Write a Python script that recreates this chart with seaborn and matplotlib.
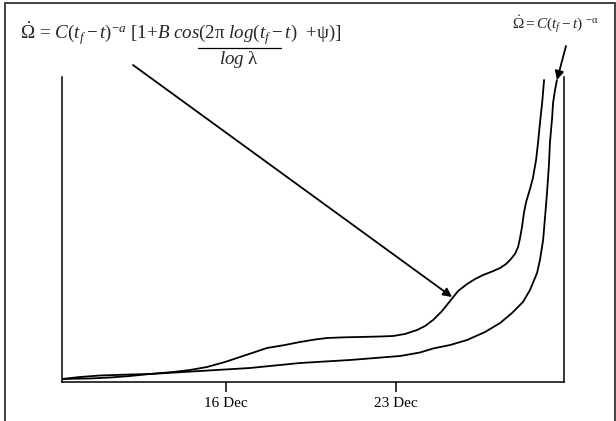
import matplotlib
matplotlib.use("Agg")
import matplotlib.pyplot as plt
import pandas as pd
import seaborn as sns
from matplotlib.lines import Line2D
from matplotlib.patches import Rectangle

# Day of December (fractional) and rate for the log-periodic fit
lp_day = [9.25, 9.79, 10.40, 11.23, 12.05, 12.87, 13.82, 14.52, 15.22, 15.96,
          16.58, 17.20, 17.69, 18.43, 19.05, 19.67, 20.16, 20.90, 21.52, 22.34,
          22.88, 23.37, 23.87, 24.20, 24.53, 24.90, 25.23, 25.56, 25.93, 26.26,
          26.59, 26.96, 27.29, 27.53, 27.70, 27.90, 28.03, 28.11, 28.19, 28.27,
          28.36, 28.52, 28.64, 28.77, 28.85, 28.93, 29.02, 29.10]
lp_rate = [3, 3.3, 3.5, 4.5, 6, 8, 10, 12, 15, 20,
           25, 30, 34, 37, 40, 42.5, 44, 44.7, 45, 45.5,
           46, 48, 52, 56, 62, 71, 81, 91, 98, 103,
           107, 110.5, 114, 118, 122, 128, 135, 144, 155, 169,
           180, 193, 204, 222, 239, 259, 279, 302]

# Day of December and rate for the pure power-law fit
pl_day = [9.25, 9.99, 10.81, 12.05, 12.87, 13.90, 14.93, 15.96, 16.99, 18.02,
          19.05, 20.08, 21.11, 22.14, 23.17, 23.99, 24.53, 25.23, 25.93, 26.67,
          27.29, 27.78, 28.23, 28.52, 28.81, 28.93, 29.06, 29.14, 29.22, 29.30,
          29.34, 29.43, 29.47, 29.55, 29.63]
pl_rate = [3, 5, 6.5, 7.5, 8, 9.5, 11, 12.5, 14, 16.5,
           19, 20.5, 22, 24, 26, 29.5, 33.5, 37, 42, 50,
           59, 69, 80, 92, 109, 122, 142, 165, 189, 217,
           239, 264, 279, 292, 302]

tick_days = [16, 23]
tick_labels = ["16 Dec", "23 Dec"]

sns.set_theme(style="white")
plt.rcParams["font.family"] = ["Liberation Serif", "DejaVu Serif"]
plt.rcParams["mathtext.fontset"] = "custom"
plt.rcParams["mathtext.rm"] = "Liberation Serif"
plt.rcParams["mathtext.it"] = "Liberation Serif:italic"
plt.rcParams["mathtext.bf"] = "Liberation Serif:bold"

W, H = 616, 421
fig = plt.figure(figsize=(W / 100, H / 100), dpi=100)
ax = fig.add_axes([62 / W, 39 / H, 502 / W, 305 / H])

lp = pd.DataFrame({"day": lp_day, "rate": lp_rate})
pl = pd.DataFrame({"day": pl_day, "rate": pl_rate})
sns.lineplot(data=lp, x="day", y="rate", ax=ax, color="black", lw=1.3,
             estimator=None, sort=False)
sns.lineplot(data=pl, x="day", y="rate", ax=ax, color="black", lw=1.3,
             estimator=None, sort=False)

ax.set_xlim(9.25, 29.92)
ax.set_ylim(0, 305)
ax.set_xlabel("")
ax.set_ylabel("")
ax.set_yticks([])
ax.set_xticks(tick_days)
ax.set_xticklabels(tick_labels, fontsize=11)
ax.tick_params(axis="x", direction="out", length=7, width=1.1, pad=4,
               bottom=True, colors="black")
ax.spines["top"].set_visible(False)
for s in ("left", "right", "bottom"):
    ax.spines[s].set_visible(True)
    ax.spines[s].set_color("black")
    ax.spines[s].set_linewidth(1.1)


def fx(px):
    return px / W


def fy(py):
    return 1 - py / H


# Outer frame
fig.patches.append(Rectangle((fx(5), fy(421 + 5)), fx(610), (421 + 5 - 3) / H,
                             transform=fig.transFigure, fill=False,
                             edgecolor="#222222", lw=1.2))

# Log-periodic formula
fig.text(fx(20), fy(39),
         r"$\dot{\Omega}\mathrm{\,=\,}\mathit{C(t_f - t)^{-a}\ [1{+}B\ cos(}"
         r"\mathrm{2\pi}\ \mathit{log(t_f - t)}\ \ {+}\mathrm{\psi}\mathit{)]}$",
         fontsize=13.7, ha="left", va="baseline")
fig.lines.append(Line2D([fx(198), fx(281)], [fy(48), fy(48)],
                        transform=fig.transFigure, color="black", lw=0.9))
fig.text(fx(239), fy(64), r"$\mathit{log}\ \mathrm{\lambda}$",
         fontsize=13.7, ha="center", va="baseline")

# Power-law formula
fig.text(fx(512), fy(29),
         r"$\dot{\Omega}\mathrm{=}\mathit{C(t_f - t)}\ {}^{-\mathrm{\alpha}}$",
         fontsize=11, ha="left", va="baseline")

arrow = dict(arrowstyle="-|>", color="black", lw=1.3, mutation_scale=13,
             shrinkA=0, shrinkB=0)
ax.annotate("", xy=(25.31, 85), xycoords="data",
            xytext=(fx(133), fy(65)), textcoords="figure fraction",
            arrowprops=arrow)
ax.annotate("", xy=(pl_day[-1], pl_rate[-1]), xycoords="data",
            xytext=(fx(566), fy(46)), textcoords="figure fraction",
            arrowprops=arrow, annotation_clip=False)

fig.savefig("out.png", dpi=100)
